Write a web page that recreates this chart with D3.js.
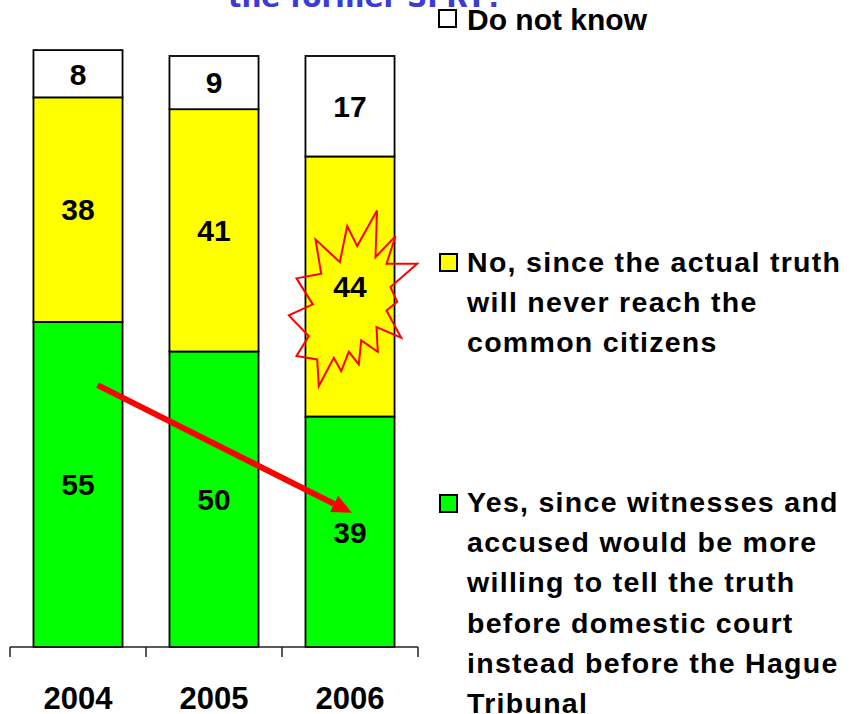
<!DOCTYPE html>
<html>
<head>
<meta charset="utf-8">
<script src="https://cdn.jsdelivr.net/npm/d3@7/dist/d3.min.js"></script>
<style>
  html, body { margin: 0; padding: 0; background: #fff; }
  svg { display: block; }
</style>
</head>
<body>
<svg id="chart" width="852" height="714"></svg>
<script>
// Survey answers by year (percent)
const years = ["2004", "2005", "2006"];
const yesValues = [55, 50, 39];
const noValues = [38, 41, 44];
const dontKnowValues = [8, 9, 17];

const seriesNames = ["Yes", "No", "Do not know"];
const seriesColors = ["#00ff00", "#ffff00", "#ffffff"];

const titleText = "the former SFRY?";
const legendDontKnow = ["Do not know"];
const legendNo = ["No, since the actual truth", "will never reach the", "common citizens"];
const legendYes = ["Yes, since witnesses and", "accused would be more", "willing to tell the truth",
                   "before domestic court", "instead before the Hague", "Tribunal"];

// Starburst outline drawn round the 2006 "No" label (offsets from the label centre)
const burst = [[27,-76],[25.5,-29.4],[45.5,-50.4],[36.5,-22.7],[67.2,-22.7],[40.5,0.6],[47.2,15.3],
  [36.5,23.9],[51.2,51.3],[26.5,40.6],[27.8,65.3],[11.2,53.9],[8.8,77.9],[-1.2,65.3],[-8.8,84.6],
  [-16.2,71.3],[-31.2,99.6],[-32.8,72.9],[-53.5,69.6],[-41.2,49.6],[-61.2,28.9],[-37.2,17.9],
  [-53.5,-8.1],[-28.8,-12.7],[-34.5,-47.1],[-10.2,-24.4],[-2.8,-60.4],[7.2,-40.4]];

const rows = years.map((y, i) => ({ year: y, Yes: yesValues[i], No: noValues[i], "Do not know": dontKnowValues[i] }));
const stacked = d3.stack().keys(seriesNames)(rows);

const svg = d3.select("#chart");
const sans = "'Liberation Sans', Arial, sans-serif";

const x = d3.scaleBand().domain(years).range([10, 418]).paddingInner(0.345).paddingOuter(0.1725);
const y = d3.scaleLinear().domain([0, 100]).range([647, 56]);

// Title (last line of the question)
svg.append("text")
  .attr("x", 228).attr("y", 7)
  .attr("font-family", "DejaVu Sans").attr("font-weight", "bold").attr("font-size", 28)
  .attr("fill", "#3b3bd6")
  .text(titleText);

// Stacked bars
const layer = svg.append("g").selectAll("g").data(stacked).join("g")
  .attr("fill", (d, i) => seriesColors[i]);

layer.selectAll("rect").data(d => d).join("rect")
  .attr("x", d => x(d.data.year))
  .attr("width", x.bandwidth())
  .attr("y", d => y(d[1]))
  .attr("height", d => y(d[0]) - y(d[1]))
  .attr("stroke", "#000").attr("stroke-width", 1.8);

// Annotation: starburst round the 2006 "No" share
const noLayer = stacked[1];
const bcx = x("2006") + x.bandwidth() / 2;
const bcy = (y(noLayer[2][0]) + y(noLayer[2][1])) / 2;
svg.append("polygon")
  .attr("points", burst.map(p => [bcx + p[0], bcy + p[1]].join(",")).join(" "))
  .attr("fill", "none").attr("stroke", "#ff0000").attr("stroke-width", 2)
  .attr("stroke-linejoin", "miter");

// Value labels
const labels = svg.append("g")
  .attr("font-family", sans)
  .attr("font-weight", "bold").attr("font-size", 30)
  .attr("text-anchor", "middle").attr("fill", "#000");
stacked.forEach(s => {
  labels.selectAll(null).data(s).join("text")
    .attr("x", d => x(d.data.year) + x.bandwidth() / 2)
    .attr("y", d => (y(d[0]) + y(d[1])) / 2)
    .attr("dy", "0.36em")
    .text(d => d[1] - d[0]);
});

// Trend arrow across the "Yes" shares
const ax0 = x("2004") + x.bandwidth() * 0.72, ay0 = y(44.3);
const ax1 = x("2006") + x.bandwidth() / 2 + 2, ay1 = y(22.7);
const ang = Math.atan2(ay1 - ay0, ax1 - ax0);
const headLen = 20, headHalf = 9;
const bx = ax1 - headLen * Math.cos(ang), by = ay1 - headLen * Math.sin(ang);
svg.append("line")
  .attr("x1", ax0).attr("y1", ay0).attr("x2", bx).attr("y2", by)
  .attr("stroke", "#ff0000").attr("stroke-width", 6);
svg.append("polygon")
  .attr("points", [
    [ax1, ay1],
    [bx + headHalf * Math.sin(ang), by - headHalf * Math.cos(ang)],
    [bx - headHalf * Math.sin(ang), by + headHalf * Math.cos(ang)]
  ].map(p => p.join(",")).join(" "))
  .attr("fill", "#ff0000");

// Category axis with ticks at band boundaries
const axisG = svg.append("g").attr("stroke", "#222").attr("stroke-width", 1.5);
axisG.append("line").attr("x1", 10).attr("x2", 418).attr("y1", 647).attr("y2", 647);
const bounds = years.map(yr => x(yr) - x.step() * x.paddingInner() / 2).concat([418]);
axisG.selectAll("line.tick").data(bounds).join("line")
  .attr("class", "tick")
  .attr("x1", d => d).attr("x2", d => d).attr("y1", 647).attr("y2", 657);

svg.append("g").selectAll("text").data(years).join("text")
  .attr("x", d => x(d) + x.bandwidth() / 2)
  .attr("y", 709)
  .attr("text-anchor", "middle")
  .attr("font-family", sans)
  .attr("font-weight", "bold").attr("font-size", 31)
  .text(d => d);

// Legend
function legendBlock(color, lines, sqX, sqY, textX, baseY, size, spacing, ls) {
  svg.append("rect").attr("x", sqX).attr("y", sqY).attr("width", 17).attr("height", 17)
    .attr("fill", color).attr("stroke", "#000").attr("stroke-width", 2);
  const t = svg.append("text")
    .attr("font-family", sans)
    .attr("font-weight", "bold").attr("font-size", size)
    .attr("letter-spacing", ls);
  lines.forEach((ln, i) => {
    t.append("tspan").attr("x", textX).attr("y", baseY + i * spacing).text(ln);
  });
}
legendBlock(seriesColors[2], legendDontKnow, 439, 10, 467, 30, 30, 40, 0);
legendBlock(seriesColors[1], legendNo, 440, 254, 467, 272, 28.5, 40, 1.3);
legendBlock(seriesColors[0], legendYes, 440, 495, 467, 512, 28.5, 40.2, 1.3);
</script>
</body>
</html>
